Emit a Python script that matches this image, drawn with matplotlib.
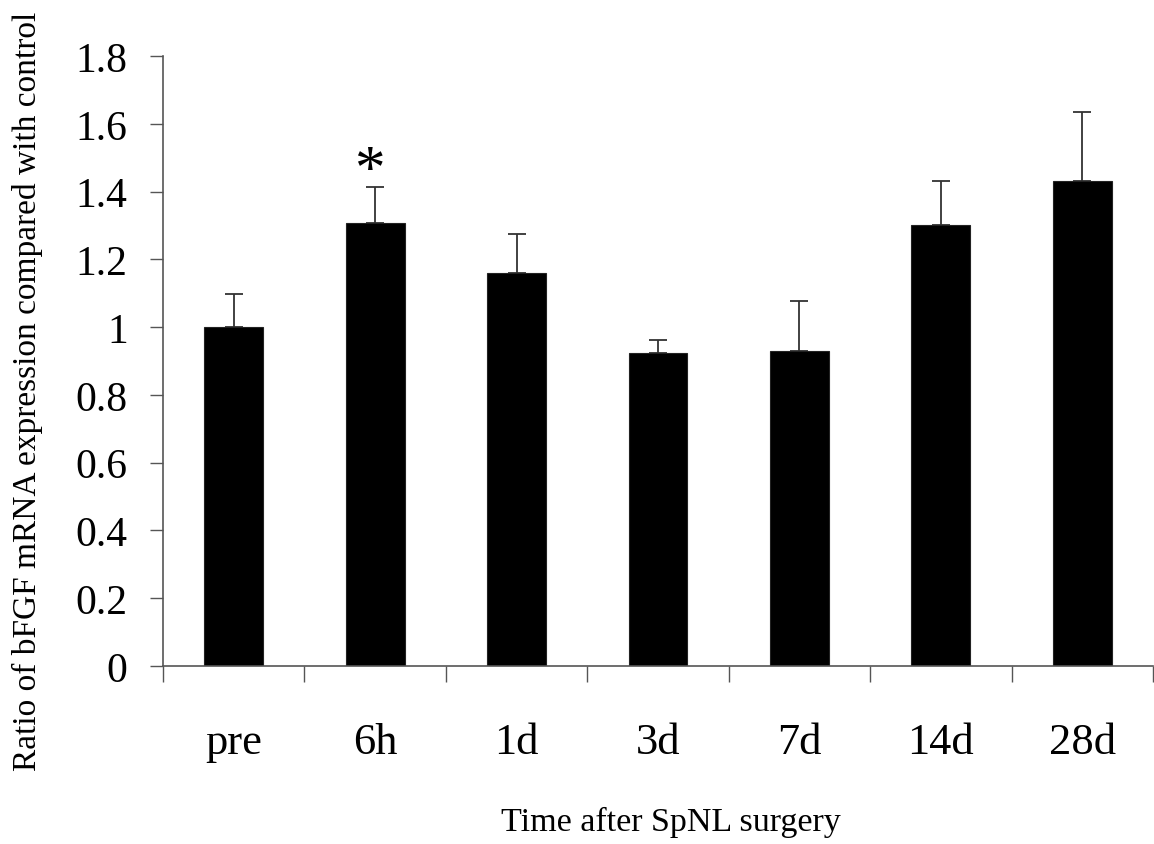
import numpy as np
import matplotlib
matplotlib.use("Agg")
import matplotlib.pyplot as plt
from matplotlib.ticker import FixedLocator

plt.rcParams['font.family'] = ['Liberation Serif', 'DejaVu Serif']

categories = ["pre", "6h", "1d", "3d", "7d", "14d", "28d"]
ratio = [1.00, 1.307, 1.159, 0.923, 0.929, 1.302, 1.432]
err_up = [0.097, 0.105, 0.117, 0.038, 0.147, 0.129, 0.202]
star_idx = 1
star_y = 1.46

fig = plt.figure(figsize=(11.54, 8.45), dpi=100)
ax = fig.add_axes([163 / 1154, 1 - 667 / 845, 990 / 1154, 610 / 845])

x = np.arange(len(categories))
ax.bar(x, ratio, width=0.417, color="black", edgecolor="#222222", linewidth=0.8, zorder=2)
ax.errorbar(x, ratio, yerr=[np.zeros(len(ratio)), err_up], fmt="none",
            ecolor="#333333", elinewidth=1.3, capsize=6.5, capthick=1.3, zorder=1)

ax.text(x[star_idx] - 0.04, star_y, "*", ha="center", va="center", fontsize=44)

ax.set_xlim(-0.5, len(categories) - 0.5)
ax.set_ylim(0, 1.8)
ax.set_yticks(np.arange(0, 1.81, 0.2))
ax.set_yticklabels(["0", "0.2", "0.4", "0.6", "0.8", "1", "1.2", "1.4", "1.6", "1.8"])
ax.set_xticks(x)
ax.set_xticklabels(categories)
ax.xaxis.set_minor_locator(FixedLocator(np.arange(-0.5, len(categories), 1.0)))

ax.tick_params(axis="y", which="major", length=9.4, width=1.0, color="#555555",
               pad=16, labelsize=30)
ax.tick_params(axis="x", which="major", length=0, pad=40, labelsize=32)
ax.tick_params(axis="x", which="minor", length=11.5, width=1.0, color="#555555")

for s in ["top", "right"]:
    ax.spines[s].set_visible(False)
for s in ["left", "bottom"]:
    ax.spines[s].set_color("#555555")
    ax.spines[s].set_linewidth(1.2)

ax.set_ylabel("Ratio of bFGF mRNA expression compared with control", fontsize=24)
ax.yaxis.set_label_coords(-0.121, 0.452)
ax.set_xlabel("Time after SpNL surgery", fontsize=24.5)
ax.xaxis.set_label_coords(0.513, -0.229)

fig.savefig("out.png", dpi=100)
